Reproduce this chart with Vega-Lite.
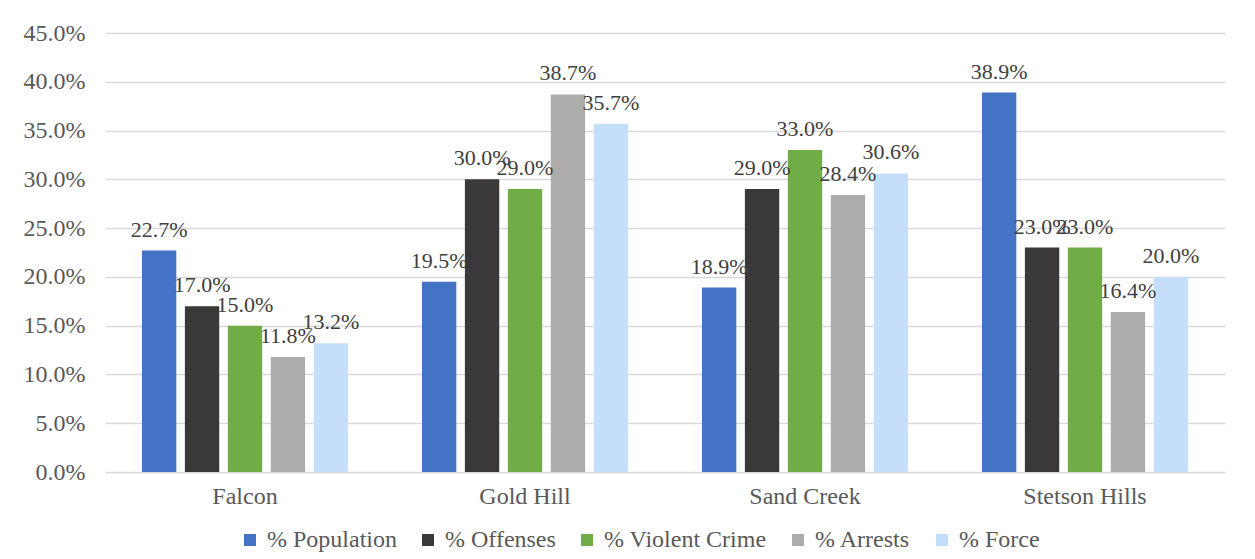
{
  "$schema": "https://vega.github.io/schema/vega-lite/v6.json",
  "width": 1120,
  "height": 439,
  "autosize": {"type": "none"},
  "padding": {"left": 105, "top": 33, "right": 30, "bottom": 87},
  "background": "white",
  "config": {
    "font": "'Liberation Serif', 'DejaVu Serif', serif",
    "view": {"stroke": null},
    "axis": {"labelFont": "'Liberation Serif', 'DejaVu Serif', serif", "labelFontSize": 24, "labelColor": "#595959", "domain": false, "ticks": false},
    "legend": {"labelFont": "'Liberation Serif', 'DejaVu Serif', serif", "labelFontSize": 24, "labelColor": "#595959", "labelLimit": 400}
  },
  "data": {
    "values": [
      {"area": "Falcon", "measure": "% Population", "pct": 22.7},
      {"area": "Falcon", "measure": "% Offenses", "pct": 17.0},
      {"area": "Falcon", "measure": "% Violent Crime", "pct": 15.0},
      {"area": "Falcon", "measure": "% Arrests", "pct": 11.8},
      {"area": "Falcon", "measure": "% Force", "pct": 13.2},
      {"area": "Gold Hill", "measure": "% Population", "pct": 19.5},
      {"area": "Gold Hill", "measure": "% Offenses", "pct": 30.0},
      {"area": "Gold Hill", "measure": "% Violent Crime", "pct": 29.0},
      {"area": "Gold Hill", "measure": "% Arrests", "pct": 38.7},
      {"area": "Gold Hill", "measure": "% Force", "pct": 35.7},
      {"area": "Sand Creek", "measure": "% Population", "pct": 18.9},
      {"area": "Sand Creek", "measure": "% Offenses", "pct": 29.0},
      {"area": "Sand Creek", "measure": "% Violent Crime", "pct": 33.0},
      {"area": "Sand Creek", "measure": "% Arrests", "pct": 28.4},
      {"area": "Sand Creek", "measure": "% Force", "pct": 30.6},
      {"area": "Stetson Hills", "measure": "% Population", "pct": 38.9},
      {"area": "Stetson Hills", "measure": "% Offenses", "pct": 23.0},
      {"area": "Stetson Hills", "measure": "% Violent Crime", "pct": 23.0},
      {"area": "Stetson Hills", "measure": "% Arrests", "pct": 16.4},
      {"area": "Stetson Hills", "measure": "% Force", "pct": 20.0}
    ]
  },
  "encoding": {
    "x": {
      "field": "area", "type": "nominal", "sort": null, "title": null,
      "scale": {"paddingInner": 0.264, "paddingOuter": 0.132},
      "axis": {"labelAngle": 0, "labelPadding": 12, "grid": false}
    },
    "xOffset": {
      "field": "measure", "type": "nominal",
      "sort": ["% Population", "% Offenses", "% Violent Crime", "% Arrests", "% Force"],
      "scale": {"paddingInner": 0.2, "paddingOuter": 0}
    },
    "y": {
      "field": "pct", "type": "quantitative", "title": null,
      "scale": {"domain": [0, 45], "nice": false},
      "axis": {
        "values": [0, 5, 10, 15, 20, 25, 30, 35, 40, 45],
        "labelExpr": "format(datum.value, '.1f') + '%'",
        "labelPadding": 20,
        "gridColor": "#D9D9D9", "gridWidth": 1.5
      }
    }
  },
  "layer": [
    {
      "mark": {"type": "bar"},
      "encoding": {
        "color": {
          "field": "measure", "type": "nominal", "title": null,
          "sort": ["% Population", "% Offenses", "% Violent Crime", "% Arrests", "% Force"],
          "scale": {
            "domain": ["% Population", "% Offenses", "% Violent Crime", "% Arrests", "% Force"],
            "range": ["#4472C4", "#3A3838", "#70AD47", "#AEABAB", "#C5DFFA"]
          },
          "legend": {
            "orient": "none", "legendX": 133, "legendY": 495, "direction": "horizontal",
            "symbolType": "square", "symbolSize": 144, "symbolStrokeWidth": 0,
            "columnPadding": 19, "labelOffset": 5
          }
        }
      }
    },
    {
      "mark": {
        "type": "text", "baseline": "alphabetic", "dy": -14, "fontSize": 22, "color": "#404040",
        "text": {"expr": "format(datum.pct, '.1f') + '%'"}
      },
      "encoding": {
        "detail": {"field": "measure"}
      }
    }
  ]
}
